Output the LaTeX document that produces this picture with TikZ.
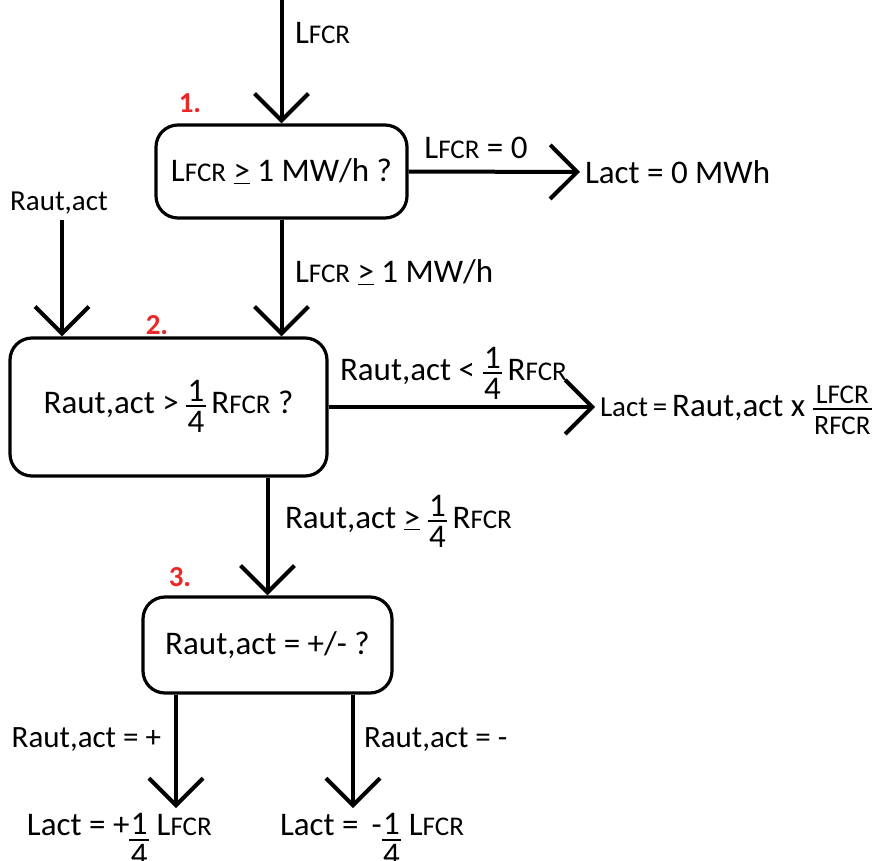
\documentclass[tikz,border=0pt]{standalone}
\usepackage{fontspec}
\setmainfont{Carlito}
\usetikzlibrary{arrows.meta}
\newcommand\smc[1]{{\fontsize{27}{30}\selectfont #1}}
\newcommand\LF{L\smc{FCR}}
\newcommand\RF{R\smc{FCR}}
\newcommand\stk[2]{\ensuremath{\vcenter{\hbox{\setlength\arrayrulewidth{2pt}\renewcommand\arraystretch{0}%
  \begin{tabular}{@{\hspace{1.5pt}}c@{\hspace{1.5pt}}}\rule[-4pt]{0pt}{24pt}#1\\\hline\rule[-2pt]{0pt}{27pt}#2\end{tabular}}}}}
\newcommand\qt{\stk{1}{4}}
\newcommand\mygeq{\underline{>}}
\definecolor{numred}{RGB}{235,40,40}
\begin{document}
\fontsize{33}{38}\selectfont
\begin{tikzpicture}[x=1pt,y=-1pt,line width=4pt,
  box/.style={draw,rounded corners=22pt,line width=3.2pt,inner sep=0pt},
  arr/.style={-{Straight Barb[length=27pt,width=54pt]}},
  lbl/.style={inner sep=0pt},
  num/.style={inner sep=0pt,text=numred,font=\fontsize{29}{32}\selectfont\bfseries}]
\useasboundingbox (0,0) rectangle (887,861);
\clip (0,0) rectangle (887,861);
% boxes
\node[box,minimum width=251pt,minimum height=93pt] (b1) at (281.5,171.5) {\LF{} \mygeq{} 1 MW/h ?};
\node[box,minimum width=317pt,minimum height=138pt] (b2) at (168.5,407) {Raut,act > \qt\,\RF{} ?};
\node[box,minimum width=249pt,minimum height=96pt] (b3) at (267.5,645) {Raut,act = +/- ?};
% step numbers
\node[num] (n1) at (190,103) {1.};
\node[num] (n2) at (157,325) {2.};
\node[num] (n3) at (180,577) {3.};
% inputs / results
\coordinate (top) at (281.5,0);
\node[lbl,font=\fontsize{29}{34}\selectfont] (ra) at (59,203) {Raut,act};
\node[lbl,anchor=west] (r1) at (583,172) {Lact = 0 MWh};
\node[lbl,anchor=west] (r2) at (598,410) {{\fontsize{29}{34}\selectfont Lact\,=\,}Raut,act x {\fontsize{28}{32}\selectfont\stk{\LF}{\RF}}};
\node[lbl,anchor=base west] (r3) at (25,835) {Lact = +\raisebox{-12pt}{\qt} \LF};
\node[lbl,anchor=base west] (r4) at (278,835) {Lact = \,-\raisebox{-12pt}{\qt} \LF};
\coordinate (e3) at (176,808);
\coordinate (e4) at (353,808);
% labels
\node[lbl,anchor=west] (l0) at (293,33) {\LF};
\node[lbl] (l1) at (476,148) {\LF{} = 0};
\node[lbl,anchor=west] (l2) at (293,272) {\LF{} \mygeq{} 1 MW/h};
\node[lbl,anchor=west] (l3) at (338,374) {Raut,act < \qt\,\RF};
\node[lbl,anchor=west] (l4) at (283,522) {Raut,act \mygeq{} \qt\,\RF};
\node[lbl,anchor=east,font=\fontsize{31}{36}\selectfont] (l5) at (163,740) {Raut,act = +};
\node[lbl,anchor=west,font=\fontsize{31}{36}\selectfont] (l6) at (362,740) {Raut,act = -};
% connectors
\draw[arr] (top) -- (b1.north);
\draw[arr] (b1.east) -- ([xshift=-3pt]r1.west);
\draw[arr] (b1.south) -- (b1.south |- b2.north);
\draw[arr] ([xshift=3pt,yshift=-4pt]ra.south) -- ([xshift=3pt]ra.south |- b2.north);
\draw[arr] (b2.east) -- ([xshift=-3pt]r2.west |- b2.east);
\draw[arr] (b3.north |- b2.south) -- (b3.north);
\draw[arr] (e3 |- b3.south) -- (e3);
\draw[arr] (e4 |- b3.south) -- (e4);
\end{tikzpicture}
\end{document}
